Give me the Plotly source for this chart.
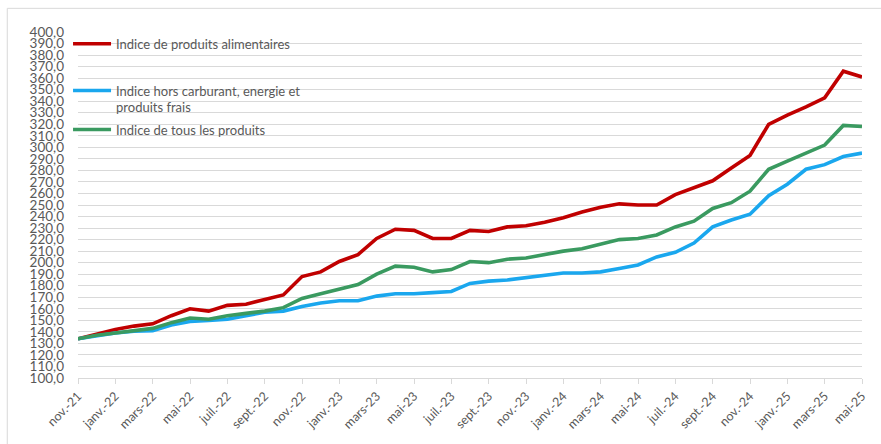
import plotly.graph_objects as go

months = ["nov.-21", "déc.-21", "janv.-22", "févr.-22", "mars-22", "avr.-22", "mai-22", "juin-22",
          "juil.-22", "août-22", "sept.-22", "oct.-22", "nov.-22", "déc.-22", "janv.-23", "févr.-23",
          "mars-23", "avr.-23", "mai-23", "juin-23", "juil.-23", "août-23", "sept.-23", "oct.-23",
          "nov.-23", "déc.-23", "janv.-24", "févr.-24", "mars-24", "avr.-24", "mai-24", "juin-24",
          "juil.-24", "août-24", "sept.-24", "oct.-24", "nov.-24", "déc.-24", "janv.-25", "févr.-25",
          "mars-25", "avr.-25", "mai-25"]

alimentaires = [134, 138, 142, 145, 147, 154, 160, 158, 163, 164, 168, 172, 188, 192, 201, 207,
                221, 229, 228, 221, 221, 228, 227, 231, 232, 235, 239, 244, 248, 251, 250, 250,
                259, 265, 271, 282, 293, 320, 328, 335, 343, 366, 361]
hors_carburant = [134, 136.5, 139, 140.5, 141, 146, 149, 150, 151, 154, 157, 158, 162, 165, 167, 167,
                  171, 173, 173, 174, 175, 182, 184, 185, 187, 189, 191, 191, 192, 195, 198, 205,
                  209, 217, 231, 237, 242, 258, 268, 281, 285, 292, 295]
tous_produits = [134, 137, 139, 141, 143, 148, 152, 151, 154, 156, 158, 161, 169, 173, 177, 181,
                 190, 197, 196, 192, 194, 201, 200, 203, 204, 207, 210, 212, 216, 220, 221, 224,
                 231, 236, 247, 252, 262, 281, 288, 295, 302, 319, 318]

names = ["Indice de produits alimentaires",
         "Indice hors carburant, energie et<br>produits frais",
         "Indice de tous les produits"]
colors = ["#C00000", "#1AA7EE", "#3A9A60"]

x_idx = list(range(len(months)))
tick_idx = x_idx[::2]
tick_txt = [months[i] for i in tick_idx]
y_ticks = list(range(100, 401, 10))

FONT = "Lato"
GRAY = "#595959"

fig = go.Figure()
for series, name, color, leg in zip([alimentaires, hors_carburant, tous_produits], names, colors,
                                    ["legend", "legend2", "legend3"]):
    fig.add_trace(go.Scatter(x=x_idx, y=series, mode="lines", name=name,
                             line=dict(color=color, width=3.6), legend=leg))

W, H = 881, 444
L, R, T, B = 78, 16, 32, 61
pw, ph = W - L - R, H - T - B


def px_x(p):
    return (p - L) / pw


def px_y(p):
    return (H - B - p) / ph


leg_common = dict(font=dict(family=FONT, size=13, color=GRAY), bgcolor="rgba(0,0,0,0)",
                  xanchor="left", yanchor="middle", valign="top", itemwidth=38,
                  borderwidth=0, visible=True)

fig.update_layout(
    width=W, height=H,
    margin=dict(l=L, r=R, t=T, b=B),
    paper_bgcolor="white", plot_bgcolor="white",
    separators=", ",
    showlegend=True,
    font=dict(family=FONT, color=GRAY),
    legend=dict(x=px_x(68), y=px_y(44), **leg_common),
    legend2=dict(x=px_x(68), y=px_y(100), **leg_common),
    legend3=dict(x=px_x(68), y=px_y(131), **leg_common),
    xaxis=dict(range=[0, len(months) - 1], tickmode="array", tickvals=tick_idx, ticktext=tick_txt,
               tickangle=-45, tickfont=dict(family=FONT, size=12.5, color=GRAY),
               showgrid=False, showline=True, linecolor="#D9D9D9", linewidth=1,
               ticks="outside", ticklen=5, tickcolor="#D9D9D9", zeroline=False),
    yaxis=dict(range=[100, 400], tickmode="array", tickvals=y_ticks, tickformat=".1f",
               tickfont=dict(family=FONT, size=13.5, color=GRAY),
               showgrid=True, gridcolor="#D9D9D9", gridwidth=1, zeroline=False,
               showline=False, ticks="", ticklabelstandoff=13),
    shapes=[dict(type="rect", xref="paper", yref="paper",
                 x0=px_x(7), x1=px_x(895), y0=px_y(460), y1=px_y(8),
                 line=dict(color="#D9D9D9", width=1), layer="below")],
)

fig.write_html("out.html", config={"displayModeBar": False},
               post_script="document.body.style.margin='0';document.body.style.overflow='hidden';")
